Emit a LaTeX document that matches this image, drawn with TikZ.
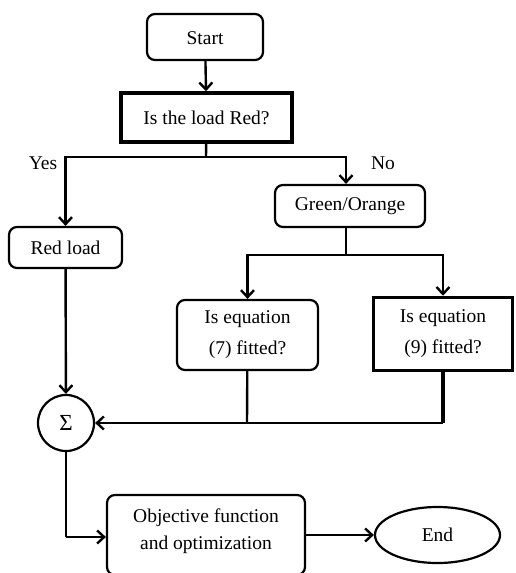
\documentclass[tikz,border=0pt]{standalone}
\usepackage{fontspec}
\setmainfont{Liberation Serif}
\usetikzlibrary{arrows.meta,shapes.geometric}
\begin{document}
\begin{tikzpicture}[x=1pt,y=-1pt,
  every node/.style={font=\fontsize{19.5}{24}\selectfont, align=center, inner sep=0pt},
  rbox/.style={draw, line width=2.2pt, rounded corners=8pt},
  tbox/.style={draw, line width=3.5pt},
  line/.style={line width=2.4pt},
  arr/.style={line width=2.4pt, -{Straight Barb[length=7pt,width=13pt,line width=2.4pt]}}]
\clip (0,0) rectangle (515,573);
\useasboundingbox (0,0) rectangle (515,573);
\node[rbox, minimum width=116pt, minimum height=46pt, text height=16pt, text depth=2pt] (start) at (205,37) {Start};
\node[tbox, minimum width=171pt, minimum height=49pt] (red) at (206.5,117.5) {Is the load Red?};
\node[rbox, minimum width=150pt, minimum height=42pt] (green) at (350,206) {Green/Orange};
\node[rbox, minimum width=113pt, minimum height=41pt] (redload) at (65.5,247.5) {Red load};
\node[rbox, minimum width=141pt, minimum height=70pt] (eq7) at (247.5,335) {Is equation\\[7pt](7) fitted?};
\node[tbox, minimum width=139pt, minimum height=73pt] (eq9) at (443,334) {Is equation\\[7pt](9) fitted?};
\node[draw, circle, line width=2.2pt, minimum size=56pt, font=\fontsize{23}{24}\selectfont] (sum) at (66,423) {Σ};
\node[rbox, minimum width=198pt, minimum height=80pt] (obj) at (206,535) {};
\node (objt) at (206,531) {Objective function\\[3pt]and optimization};
\node[draw, ellipse, line width=2.2pt, minimum width=125pt, minimum height=56pt] (end) at (437.5,535) {End};
\node (yes) at (43,163) {Yes};
\node (no) at (383,163) {No};
\coordinate (j1) at (206,157);
\coordinate (j2) at (346,255);
\coordinate (j3) at (247,423);
\coordinate (j4) at (443,423);
\coordinate (j5) at (66,537);
\draw[arr] (start) -- (red);
\draw[line] (red) -- (j1);
\draw[arr] (j1) -| (redload);
\draw[arr] (j1) -| (green.north -| j2);
\draw[line] (green.south -| j2) -- (j2);
\draw[arr] (j2) -| (eq7);
\draw[arr] (j2) -| (eq9);
\draw[arr] (redload) -- (sum);
\draw[line] (eq7) -- (j3);
\draw[line width=3.5pt] (eq9) -- (j4);
\draw[arr] (j4) -- (sum);
\draw[line] (sum) -- (j5);
\draw[arr] (j5) -- (obj.west |- j5);
\draw[arr] (obj) -- (end);
\end{tikzpicture}
\end{document}
